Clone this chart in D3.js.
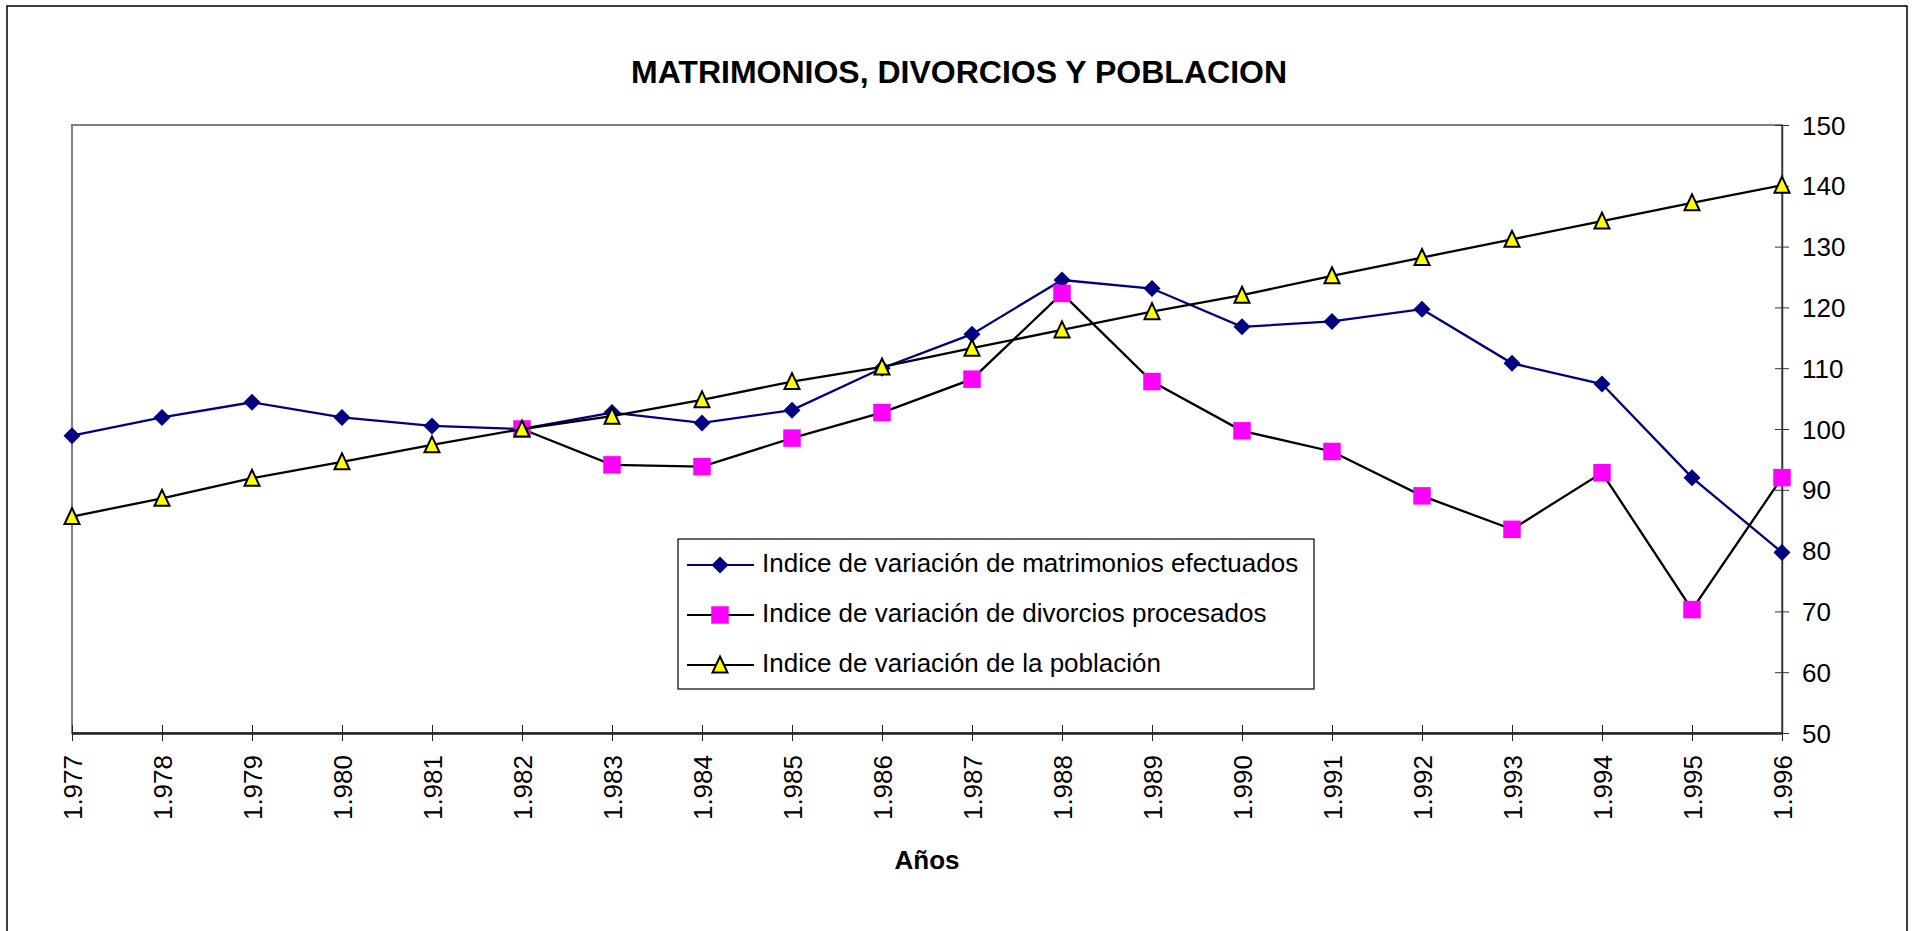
<!DOCTYPE html>
<html>
<head>
<meta charset="utf-8">
<script src="https://cdn.jsdelivr.net/npm/d3@7"></script>
<style>
  html, body { margin: 0; padding: 0; background: #fff; }
  svg { display: block; font-family: "Liberation Sans", Arial, sans-serif; }
</style>
</head>
<body>
<div id="chart"></div>
<script>
// data
const years = [1977, 1978, 1979, 1980, 1981, 1982, 1983, 1984, 1985, 1986,
               1987, 1988, 1989, 1990, 1991, 1992, 1993, 1994, 1995, 1996];
const yearLabels = ["1.977", "1.978", "1.979", "1.980", "1.981", "1.982", "1.983", "1.984", "1.985", "1.986",
                    "1.987", "1.988", "1.989", "1.990", "1.991", "1.992", "1.993", "1.994", "1.995", "1.996"];
const matrimonios = [98.9, 101.9, 104.4, 101.9, 100.5, 100, 102.7, 101.0, 103.1, 110.0,
                     115.6, 124.5, 123.1, 116.8, 117.7, 119.7, 110.8, 107.4, 92.0, 79.7];
const divorcios = [null, null, null, null, null, 100, 94.1, 93.8, 98.5, 102.7,
                   108.2, 122.3, 107.8, 99.7, 96.3, 89.0, 83.5, 92.8, 70.3, 92.0];
const poblacion = [85.6, 88.6, 91.9, 94.6, 97.4, 100, 102.1, 104.8, 107.8, 110.2,
                   113.3, 116.3, 119.3, 122.0, 125.2, 128.2, 131.2, 134.2, 137.2, 140.1];
const yTicks = [50, 60, 70, 80, 90, 100, 110, 120, 130, 140, 150];
const seriesNames = [
  "Indice de variación de matrimonios efectuados",
  "Indice de variación de divorcios procesados",
  "Indice de variación de la población"
];

const width = 1919;
const height = 931;
const plot = { left: 72, right: 1782, top: 125, bottom: 733 };

const svg = d3.select("#chart").append("svg")
  .attr("width", width)
  .attr("height", height);

// outer frame
svg.append("rect")
  .attr("x", 7).attr("y", 6)
  .attr("width", 1900).attr("height", 960)
  .attr("fill", "#fff")
  .attr("stroke", "#000")
  .attr("stroke-width", 1.5);

svg.append("text")
  .attr("x", 959).attr("y", 83)
  .attr("text-anchor", "middle")
  .attr("font-size", 32)
  .attr("font-weight", "bold")
  .text("MATRIMONIOS, DIVORCIOS Y POBLACION");

const x = d3.scalePoint().domain(years).range([plot.left, plot.right]);
const y = d3.scaleLinear().domain([50, 150]).range([plot.bottom, plot.top]);

// plot area frame
svg.append("rect")
  .attr("x", plot.left).attr("y", plot.top)
  .attr("width", plot.right - plot.left)
  .attr("height", plot.bottom - plot.top)
  .attr("fill", "#fff")
  .attr("stroke", "#808080")
  .attr("stroke-width", 2);

// X AXIS
const xAxis = svg.append("g")
  .attr("transform", `translate(0,${plot.bottom})`)
  .call(d3.axisBottom(x).tickFormat((d, i) => yearLabels[i]).tickSizeOuter(0));
xAxis.select(".domain").attr("stroke", "#222").attr("stroke-width", 2.5);
xAxis.selectAll(".tick line").attr("y1", -8).attr("y2", 8).attr("stroke", "#222");
xAxis.selectAll(".tick text")
  .attr("transform", "rotate(-90)")
  .attr("x", -22).attr("y", 0).attr("dy", "0.35em")
  .attr("text-anchor", "end")
  .attr("font-size", 26)
  .attr("font-family", "Liberation Sans, Arial, sans-serif")
  .attr("fill", "#000");

// Y AXIS (right)
const yAxis = svg.append("g")
  .attr("transform", `translate(${plot.right},0)`)
  .call(d3.axisRight(y).tickValues(yTicks).tickSizeOuter(0));
yAxis.select(".domain").attr("stroke", "#333").attr("stroke-width", 1.5);
yAxis.selectAll(".tick line").attr("x1", -7).attr("x2", 7).attr("stroke", "#333");
yAxis.selectAll(".tick text")
  .attr("x", 20).attr("dy", "0.35em")
  .attr("font-size", 26)
  .attr("font-family", "Liberation Sans, Arial, sans-serif")
  .attr("fill", "#000");

svg.append("text")
  .attr("x", 927).attr("y", 869)
  .attr("text-anchor", "middle")
  .attr("font-size", 26)
  .attr("font-weight", "bold")
  .text("Años");

// SERIES
const line = d3.line()
  .defined(d => d.v !== null)
  .x(d => x(d.year))
  .y(d => y(d.v));

const diamond = d3.symbol().type(d3.symbolDiamond2).size(184)();
const square = d3.symbol().type(d3.symbolSquare2).size(390)();
const triangle = "M0,-8.5L7.5,7.5L-7.5,7.5Z";

const series = [
  { values: matrimonios, stroke: "#000080", marker: diamond, fill: "#000080", mStroke: "none" },
  { values: divorcios, stroke: "#000", marker: square, fill: "#ff00ff", mStroke: "none" },
  { values: poblacion, stroke: "#000", marker: triangle, fill: "#ffff00", mStroke: "#000" }
];

series.forEach(s => {
  const pts = years.map((yr, i) => ({ year: yr, v: s.values[i] }));
  svg.append("path")
    .datum(pts)
    .attr("fill", "none")
    .attr("stroke", s.stroke)
    .attr("stroke-width", 2.3)
    .attr("d", line);
  svg.append("g").selectAll("path")
    .data(pts.filter(d => d.v !== null))
    .join("path")
    .attr("transform", d => `translate(${x(d.year)},${y(d.v)})`)
    .attr("d", s.marker)
    .attr("fill", s.fill)
    .attr("stroke", s.mStroke)
    .attr("stroke-width", 2)
    .attr("stroke-linejoin", "miter");
});

// LEGEND
const legend = svg.append("g").attr("transform", "translate(678,539)");
legend.append("rect")
  .attr("width", 636).attr("height", 150)
  .attr("fill", "#fff")
  .attr("stroke", "#000")
  .attr("stroke-width", 1.2);

series.forEach((s, i) => {
  const row = legend.append("g").attr("transform", `translate(0,${26 + i * 50})`);
  row.append("line")
    .attr("x1", 9).attr("x2", 76)
    .attr("stroke", s.stroke).attr("stroke-width", 2.2);
  row.append("path")
    .attr("transform", "translate(42,0)")
    .attr("d", s.marker)
    .attr("fill", s.fill)
    .attr("stroke", s.mStroke)
    .attr("stroke-width", 2);
  row.append("text")
    .attr("x", 84).attr("y", -2)
    .attr("dy", "0.35em")
    .attr("font-size", 26)
    .text(seriesNames[i]);
});
</script>
</body>
</html>
